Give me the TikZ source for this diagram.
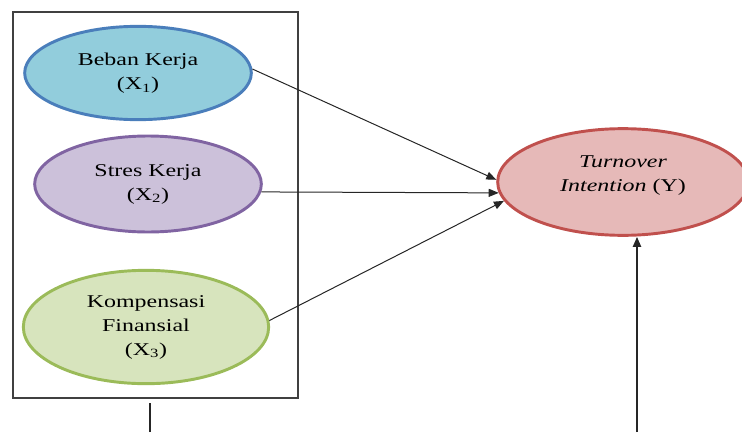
\documentclass[tikz,border=0pt]{standalone}
\usepackage{fontspec}
\setmainfont{Liberation Serif}[FakeStretch=1.33]
\usetikzlibrary{shapes.geometric,arrows.meta}

\definecolor{bebanFill}{HTML}{92CDDC}
\definecolor{bebanLine}{HTML}{4A7EBB}
\definecolor{stresFill}{HTML}{CCC1DA}
\definecolor{stresLine}{HTML}{8064A2}
\definecolor{kompFill}{HTML}{D7E4BD}
\definecolor{kompLine}{HTML}{9BBB59}
\definecolor{turnFill}{HTML}{E6B9B8}
\definecolor{turnLine}{HTML}{C0504D}

\tikzset{
  var/.style={ellipse, line width=2.2pt, inner sep=0pt, align=center,
    font=\fontsize{13.5}{18}\selectfont, text=black},
  link/.style={line width=0.75pt, ->, draw=black!85}
}

\begin{document}
\begin{tikzpicture}[x=0.75pt, y=-0.75pt, >={Triangle[length=7.5pt,width=6pt]}]
\useasboundingbox (0,0) rectangle (742,432);

\node[draw=black!75, line width=1.1pt, minimum width=213.75pt, minimum height=289.5pt] (box) at (155.5,205) {};

\node[var, draw=bebanLine, fill=bebanFill, minimum width=170pt, minimum height=70pt] (beban) at (138,73) {Beban Kerja\\(X\textsubscript{1})};
\node[var, draw=stresLine, fill=stresFill, minimum width=170pt, minimum height=72pt] (stres) at (148,184) {Stres Kerja\\(X\textsubscript{2})};
\node[var, draw=kompLine, fill=kompFill, minimum width=184pt, minimum height=85pt] (komp) at (146,327) {Kompensasi\\Finansial\\(X\textsubscript{3})};
\node[var, draw=turnLine, fill=turnFill, minimum width=188pt, minimum height=80pt, text depth=12pt] (turn) at (623,182) {\textit{Turnover}\\\textit{Intention} (Y)};

\draw[link] (beban.2) -- (turn.179);
\draw[link] (stres.-4) -- (turn.185);
\draw[link] (komp.3) -- (turn.189);

\coordinate (boxOut) at (150,432);
\coordinate (turnIn) at (637,432);
\draw[line width=1.5pt, draw=black!85, shorten >=3pt] (boxOut) -- (boxOut |- box.south);
\draw[line width=1.5pt, draw=black!85, ->] (turnIn) -- (turnIn |- turn.south);

\end{tikzpicture}
\end{document}
